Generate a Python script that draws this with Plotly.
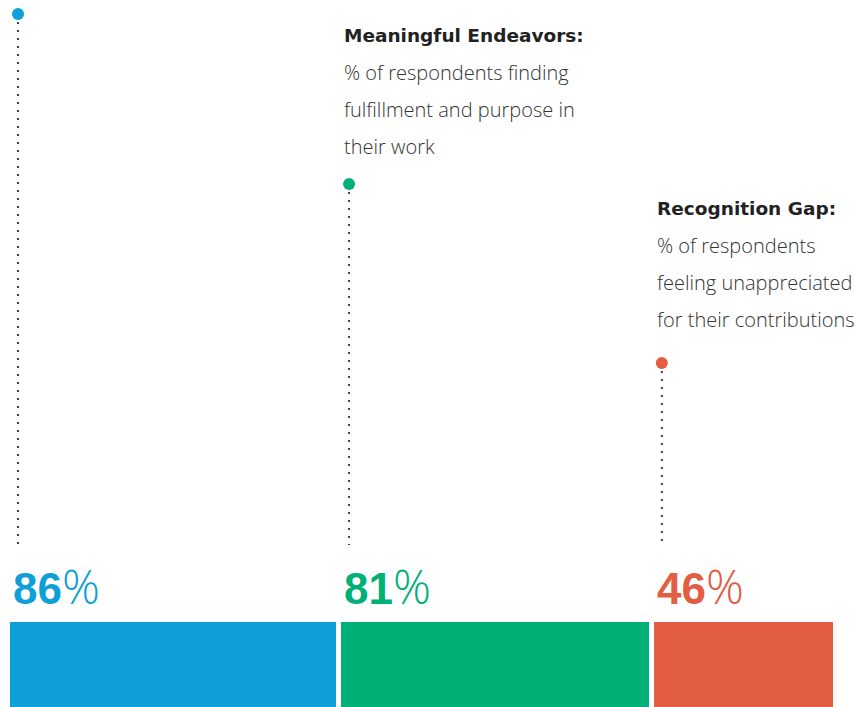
import plotly.graph_objects as go

# Survey results
categories = ["Engaged Workforce", "Meaningful Endeavors", "Recognition Gap"]
values = [86, 81, 46]
colors = ["#0e9fd8", "#00b077", "#e35d42"]
titles = [None, "Meaningful Endeavors:", "Recognition Gap:"]
descriptions = [
    None,
    ["% of respondents finding", "fulfillment and purpose in", "their work"],
    ["% of respondents", "feeling unappreciated", "for their contributions"],
]

# Layout (pixel units, y grows downward)
W, H = 855, 707
PX_PER_POINT = 3.66
BAR_PAD = 11.3
LEFT = 10
GAP = 5
BAR_TOP = 622
PIN_TOP = [14, 184, 363]
PIN_BOTTOM = 545
PIN_OFFSET = 8
CAPTION_TOP = [None, 35, 208]
LINE_STEP = 37.3

TITLE_FONT = "DejaVu Sans, Liberation Sans, Arial"
BODY_FONT = "Open Sans, Liberation Sans, Arial"
NUM_FONT = "Liberation Sans, Arial"

fig = go.Figure()

widths = [v * PX_PER_POINT + BAR_PAD for v in values]
lefts = []
x = LEFT
for w in widths:
    lefts.append(x)
    x += w + GAP

fig.add_trace(go.Bar(
    x=[l + w / 2 for l, w in zip(lefts, widths)],
    width=widths,
    y=[120] * len(values),
    base=[BAR_TOP] * len(values),
    marker=dict(color=colors, line=dict(width=0)),
    hoverinfo="skip",
    showlegend=False,
))

annotations = []
for i, (v, c) in enumerate(zip(values, colors)):
    px = lefts[i] + PIN_OFFSET
    # dotted leader
    fig.add_trace(go.Scatter(
        x=[px, px], y=[PIN_TOP[i] + 8, PIN_BOTTOM], mode="lines",
        line=dict(color="#3a3f4f", width=2, dash="2px,6px"),
        hoverinfo="skip", showlegend=False,
    ))
    # pin head
    fig.add_trace(go.Scatter(
        x=[px], y=[PIN_TOP[i]], mode="markers",
        marker=dict(color=c, size=12, line=dict(width=0)),
        hoverinfo="skip", showlegend=False,
    ))
    # value label
    annotations.append(dict(
        x=lefts[i] + 1, y=586, xref="x", yref="y", xanchor="left", yanchor="middle",
        text=(f"<b>{v}</b><span style='font-family:Open Sans;font-weight:300;"
              f"font-size:47px'>%</span>"),
        showarrow=False, font=dict(family=NUM_FONT, size=44, color=c),
    ))
    # caption block
    if titles[i]:
        ty = CAPTION_TOP[i]
        annotations.append(dict(
            x=lefts[i] + 1, y=ty, xref="x", yref="y", xanchor="left", yanchor="middle",
            text=f"<b>{titles[i]}</b>", showarrow=False,
            font=dict(family=TITLE_FONT, size=18.5, color="#222222"),
        ))
        for j, line in enumerate(descriptions[i]):
            annotations.append(dict(
                x=lefts[i] + 1, y=ty + LINE_STEP * (j + 1), xref="x", yref="y",
                xanchor="left", yanchor="middle", text=line, showarrow=False,
                font=dict(family=BODY_FONT, size=20, color="#333333", weight=300),
            ))

fig.update_layout(
    width=W, height=H, margin=dict(l=0, r=0, t=0, b=0),
    paper_bgcolor="white", plot_bgcolor="white",
    xaxis=dict(range=[0, W], visible=False, fixedrange=True),
    yaxis=dict(range=[H, 0], visible=False, fixedrange=True),
    annotations=annotations, bargap=0,
)

fig.write_html("out.html")
